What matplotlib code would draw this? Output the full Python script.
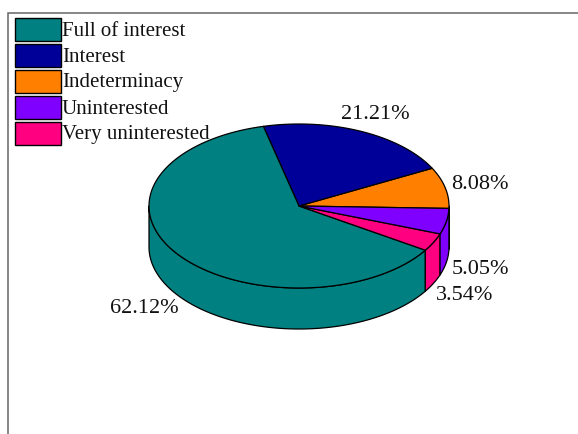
import numpy as np
import matplotlib
matplotlib.use("Agg")
import matplotlib.pyplot as plt

categories = ["Full of interest", "Interest", "Indeterminacy", "Uninterested", "Very uninterested"]
shares = [62.12, 21.21, 8.08, 5.05, 3.54]
colors = ["#008080", "#000099", "#FF8000", "#8000FF", "#FF0080"]

# Slices run counter-clockwise from just below the 3 o'clock position in this order
slice_order = [2, 1, 0, 4, 3]
START_ANGLE = -1.7

CX, CY, RX, RY, DEPTH = 299.0, 206.0, 150.0, 82.0, 41.0

label_pos = {0: (144.5, 308.5), 1: (375.5, 114.5), 2: (479.5, 184.5), 3: (480.5, 269.5), 4: (464.5, 295.5)}

plt.rcParams["font.family"] = ["Liberation Serif", "DejaVu Serif"]

fig = plt.figure(figsize=(5.78, 4.34), dpi=100)
ax = fig.add_axes([0, 0, 1, 1])
ax.set_xlim(0, 578)
ax.set_ylim(434, 0)
ax.axis("off")

# Plot frame: only the top and left edges fall inside the canvas
ax.plot([7.5, 7.5, 578], [434, 12.5, 12.5], color="#666666", lw=1.1, solid_joinstyle="miter", zorder=1)


def rim(t0, t1, n=120):
    t = np.radians(np.linspace(t0, t1, n))
    return CX + RX * np.cos(t), CY - RY * np.sin(t)


# Build angular spans from the shares
total = sum(shares)
spans = {}
start = START_ANGLE
for i in slice_order:
    end = start + shares[i] / total * 360.0
    spans[i] = (start, end)
    start = end

# Outer wall: only the front half of the disc is visible
for i in slice_order:
    for turn in (0.0, 360.0):
        t0 = max(spans[i][0] + turn, 180.0)
        t1 = min(spans[i][1] + turn, 360.0)
        if t1 <= t0:
            continue
        x, y = rim(t0, t1)
        ax.fill(np.r_[x, x[::-1]], np.r_[y, y[::-1] + DEPTH], facecolor=colors[i],
                edgecolor="black", lw=0.9, joinstyle="round", zorder=2)

# Top face
for i in slice_order:
    x, y = rim(*spans[i])
    ax.fill(np.r_[CX, x], np.r_[CY, y], facecolor=colors[i],
            edgecolor="black", lw=0.9, joinstyle="round", zorder=3)

# Percentage labels
for i, share in enumerate(shares):
    px, py = label_pos[i]
    ax.text(px, py, f"{share:.2f}%", fontsize=16, color="#111111", ha="center", va="center", zorder=5)

# Legend
for row, (name, col) in enumerate(zip(categories, colors)):
    top = 18 + row * 26
    ax.add_patch(plt.Rectangle((14.5, top), 46.5, 22.5, facecolor=col, edgecolor="black", lw=1.0, zorder=4))
    ax.text(62, top + 13, name, fontsize=15, color="#111111", ha="left", va="center", zorder=5)

fig.savefig("out.png", dpi=100, facecolor="white")
